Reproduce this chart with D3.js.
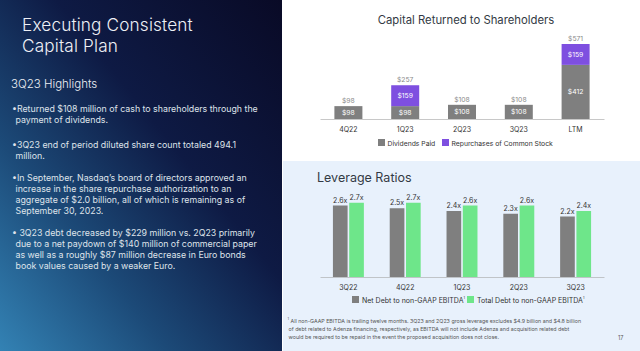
<!DOCTYPE html>
<html>
<head>
<meta charset="utf-8">
<script src="https://cdn.jsdelivr.net/npm/d3@7"></script>
<style>
  html, body { margin: 0; padding: 0; background: #fff; }
  svg { display: block; font-family: Inter, "Noto Sans", sans-serif; }
</style>
</head>
<body>
<svg id="root" width="640" height="351"></svg>
<script>
// Capital returned ($M)
const capCategories = ["4Q22", "1Q23", "2Q23", "3Q23", "LTM"];
const dividendsPaid = [98, 98, 108, 108, 412];
const repurchases = [0, 159, 0, 0, 159];

// Leverage ratios (x)
const levCategories = ["3Q22", "4Q22", "1Q23", "2Q23", "3Q23"];
const netDebt = [2.6, 2.5, 2.4, 2.3, 2.2];
const totalDebt = [2.7, 2.7, 2.6, 2.6, 2.4];

const GRAY = "#7f7f7f", PURPLE = "#7e4fe0", GREEN = "#6ee68a";

const svg = d3.select("#root");

//Backgrounds
const defs = svg.append("defs");
const grad = defs.append("linearGradient")
  .attr("id", "darkGrad")
  .attr("x1", "0").attr("y1", "1").attr("x2", "1").attr("y2", "0");
[["0%", "#3382b4"], ["30%", "#1c4a78"], ["60%", "#0e1a44"], ["100%", "#090a26"]]
  .forEach(([o, c]) => grad.append("stop").attr("offset", o).attr("stop-color", c));

svg.append("rect").attr("width", 640).attr("height", 351).attr("fill", "#fff");
svg.append("rect").attr("width", 282).attr("height", 351).attr("fill", "url(#darkGrad)");
svg.append("rect").attr("x", 283).attr("y", 161).attr("width", 357).attr("height", 190).attr("fill", "#e8f1fc");

//Left panel text
const left = svg.append("g").attr("fill", "#eef0f5");
["Executing Consistent", "Capital Plan"].forEach((t, i) => {
  left.append("text").attr("x", 22).attr("y", 30.8 + i * 20.9)
    .attr("font-size", 17.2).attr("font-weight", 300).attr("letter-spacing", 0.15).text(t);
});
left.append("text").attr("x", 11).attr("y", 87.5).attr("font-size", 11.5).attr("font-weight", 300)
  .text("3Q23 Highlights");

const bullets = [
  { y: 112, lines: ["\u2022Returned $108 million of cash to shareholders through the", "payment of dividends."] },
  { y: 147.5, lines: ["\u20223Q23 end of period diluted share count totaled 494.1", "million."] },
  { y: 180.5, lines: ["\u2022In September, Nasdaq\u2019s board of directors approved an",
    "increase in the share repurchase authorization to an",
    "aggregate of $2.0 billion, all of which is remaining as of",
    "September 30, 2023."] },
  { y: 236, lines: ["\u2022 3Q23 debt decreased by $229 million vs. 2Q23 primarily",
    "due to a net paydown of $140 million of commercial paper",
    "as well as a roughly $87 million decrease in Euro bonds",
    "book values caused by a weaker Euro."] }
];
bullets.forEach(b => {
  b.lines.forEach((l, i) => {
    left.append("text")
      .attr("x", i === 0 ? 12 : 15.5)
      .attr("y", b.y + i * 11)
      .attr("font-size", 8.8)
      .attr("fill", "#dfe3ea")
      .text(l);
  });
});

//Capital Returned chart
function capitalChart() {
  const base = 119;
  const x = d3.scaleBand().domain(capCategories).range([320, 604]).paddingInner(0.507).paddingOuter(0.2535);
  const y = d3.scaleLinear().domain([0, 571]).range([base, 44]);
  const g = svg.append("g");

  g.append("text").attr("x", 466).attr("y", 24).attr("text-anchor", "middle")
    .attr("font-size", 11.3).attr("fill", "#333a44").text("Capital Returned to Shareholders");

  const rows = capCategories.map((c, i) => ({ c, d: dividendsPaid[i], r: repurchases[i] }));
  const bar = g.selectAll("g.bar").data(rows).enter().append("g").classed("bar", true);
  bar.append("rect")
    .attr("x", d => x(d.c)).attr("width", x.bandwidth())
    .attr("y", d => y(d.d)).attr("height", d => base - y(d.d))
    .attr("fill", GRAY);
  bar.filter(d => d.r > 0).append("rect")
    .attr("x", d => x(d.c)).attr("width", x.bandwidth())
    .attr("y", d => y(d.d + d.r)).attr("height", d => y(d.d) - y(d.d + d.r))
    .attr("fill", PURPLE);
  bar.append("text")
    .attr("x", d => x(d.c) + x.bandwidth() / 2).attr("y", d => (y(d.d) + base) / 2 + 2.5)
    .attr("text-anchor", "middle").attr("font-size", 6.8).attr("fill", "#fff")
    .text(d => "$" + d.d);
  bar.filter(d => d.r > 0).append("text")
    .attr("x", d => x(d.c) + x.bandwidth() / 2).attr("y", d => (y(d.d + d.r) + y(d.d)) / 2 + 2.5)
    .attr("text-anchor", "middle").attr("font-size", 6.8).attr("fill", "#fff")
    .text(d => "$" + d.r);
  bar.append("text")
    .attr("x", d => x(d.c) + x.bandwidth() / 2).attr("y", d => y(d.d + d.r) - 3)
    .attr("text-anchor", "middle").attr("font-size", 6.8).attr("fill", "#8a8a8a")
    .text(d => "$" + (d.d + d.r));

  const ax = g.append("g").attr("transform", `translate(0,${base})`)
    .call(d3.axisBottom(x).tickSize(0).tickSizeOuter(0).tickPadding(8));
  ax.select(".domain").attr("stroke", "#c8c8c8");
  ax.selectAll("text").attr("font-size", 7).attr("fill", "#333").attr("font-family", "Inter, sans-serif");

  const leg = [{ t: "Dividends Paid", c: GRAY, x: 378 }, { t: "Repurchases of Common Stock", c: PURPLE, x: 442 }];
  leg.forEach(l => {
    g.append("rect").attr("x", l.x).attr("y", 139).attr("width", 7).attr("height", 7).attr("fill", l.c);
    g.append("text").attr("x", l.x + 9.5).attr("y", 145.5).attr("font-size", 6.8).attr("fill", "#333").text(l.t);
  });
}

//Leverage chart
function leverageChart() {
  const base = 277;
  const x = d3.scaleBand().domain(levCategories).range([320, 604]).paddingInner(0.455).paddingOuter(0.2275);
  const keys = ["net", "total"];
  const xs = d3.scaleBand().domain(keys).range([0, x.bandwidth()]).paddingInner(0.1);
  const y = d3.scaleLinear().domain([0, 3]).range([base, base - 82.5]);
  const color = d3.scaleOrdinal().domain(keys).range([GRAY, GREEN]);
  const g = svg.append("g");

  g.append("text").attr("x", 317).attr("y", 181.5).attr("font-size", 12.5).attr("fill", "#333a44")
    .text("Leverage Ratios");

  const rows = levCategories.map((c, i) => ({ c, vals: [{ k: "net", v: netDebt[i] }, { k: "total", v: totalDebt[i] }] }));
  const grp = g.selectAll("g.grp").data(rows).enter().append("g")
    .attr("transform", d => `translate(${x(d.c)},0)`);
  grp.selectAll("rect").data(d => d.vals).enter().append("rect")
    .attr("x", d => xs(d.k)).attr("width", xs.bandwidth())
    .attr("y", d => y(d.v)).attr("height", d => base - y(d.v))
    .attr("fill", d => color(d.k));
  grp.selectAll("text").data(d => d.vals).enter().append("text")
    .attr("x", d => xs(d.k) + xs.bandwidth() / 2).attr("y", d => y(d.v) - 3)
    .attr("text-anchor", "middle").attr("font-size", 7).attr("fill", "#333")
    .text(d => d.v.toFixed(1) + "x");

  const ax = g.append("g").attr("transform", `translate(0,${base})`)
    .call(d3.axisBottom(x).tickSize(0).tickSizeOuter(0).tickPadding(8));
  ax.select(".domain").attr("stroke", "#c0c4c8");
  ax.selectAll("text").attr("font-size", 7).attr("fill", "#333").attr("font-family", "Inter, sans-serif");

  const leg = [{ t: "Net Debt to non-GAAP EBITDA", c: GRAY, x: 352 }, { t: "Total Debt to non-GAAP EBITDA", c: GREEN, x: 467 }];
  leg.forEach(l => {
    g.append("rect").attr("x", l.x).attr("y", 296).attr("width", 7).attr("height", 7).attr("fill", l.c);
    const t = g.append("text").attr("x", l.x + 10).attr("y", 302.5).attr("font-size", 7).attr("fill", "#333").text(l.t);
    t.append("tspan").attr("font-size", 3.5).attr("dy", -4).text("1");
  });

  //Footnote
  const notes = [
    "All non-GAAP EBITDA is trailing twelve months. 3Q23 and 2Q23 gross leverage excludes $4.9 billion and $4.8 billion",
    "of debt related to Adenza financing, respectively, as EBITDA will not include Adenza and acquisition related debt",
    "would be required to be repaid in the event the proposed acquisition does not close."
  ];
  g.append("text").attr("x", 287.5).attr("y", 319.5).attr("font-size", 3.5).attr("fill", "#555").text("1");
  notes.forEach((n, i) => {
    g.append("text").attr("x", i === 0 ? 290.5 : 288.5).attr("y", 322.5 + i * 8.2)
      .attr("font-size", 5.3).attr("fill", "#555").text(n);
  });
  g.append("text").attr("x", 618).attr("y", 340).attr("font-size", 5.5).attr("fill", "#555").text("17");
}

capitalChart();
leverageChart();
</script>
</body>
</html>
